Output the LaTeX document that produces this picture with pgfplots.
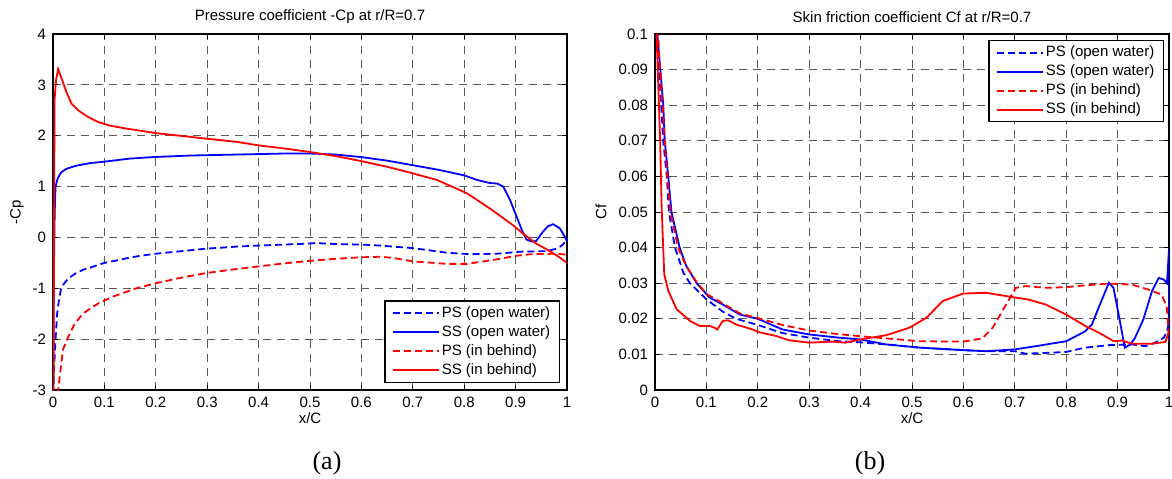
\documentclass[border=0pt]{standalone}
\usepackage{fontspec}
\setmainfont{Liberation Sans}
\newfontfamily\capfont{Liberation Serif}
\usepackage{pgfplots}
\pgfplotsset{compat=1.18}
\newcommand\tf{\fontsize{7.5}{9}\selectfont}

\pgfplotsset{
  cfd/.style={
    width=257pt, height=178pt, scale only axis,
    anchor=south west,
    xmin=0, xmax=1,
    xtick={0,0.1,0.2,0.3,0.4,0.5,0.6,0.7,0.8,0.9,1},
    grid=major,
    major grid style={black!65, line width=0.5pt, dash pattern=on 4pt off 3pt},
    tick align=inside, major tick length=2.5pt,
    tick style={black, line width=0.5pt},
    axis line style={line width=0.6pt},
    ticklabel style={font=\tf},
    /pgf/number format/assume math mode=true,
    scaled ticks=false,
    x tick label style={/pgf/number format/fixed, /pgf/number format/precision=1},
    every axis title/.style={font=\tf, anchor=center, at={(axis description cs:0.5,1.048)}},
    xlabel style={font=\tf, anchor=center, at={(axis description cs:0.5,-0.079)}},
    ylabel style={font=\tf, anchor=center},
    legend cell align=left,
    legend style={font=\tf, draw=black, line width=0.6pt, fill=white,
      inner xsep=3.5pt, inner ysep=1.5pt, row sep=0.4pt,
      nodes={inner sep=1pt, text height=5.5pt, text depth=1.6pt}},
    legend image code/.code={\draw[#1] (0pt,0pt) -- (23pt,0pt);},
    every axis plot/.append style={line width=0.9pt},
  },
  psow/.style={blue, dash pattern=on 3.5pt off 2pt},
  ssow/.style={blue},
  psib/.style={red, dash pattern=on 3.5pt off 2pt},
  ssib/.style={red},
}

\begin{document}
\begin{tikzpicture}
\begin{axis}[cfd, at={(0pt,0pt)},
  ymin=-3, ymax=4, ytick={-3,-2,-1,0,1,2,3,4},
  title={Pressure coefficient -Cp at r/R=0.7},
  xlabel={x/C}, ylabel={-Cp},
  ylabel style={at={(axis description cs:-0.07,0.5)}},
  legend style={at={(axis description cs:0.986,0.02)}, anchor=south east},
]
\addplot[psow] coordinates {
 (0.000,-3.3) (0.002,-2.6) (0.005,-2.0) (0.008,-1.5) (0.012,-1.2) (0.016,-1.0)
 (0.02,-0.93) (0.026,-0.85) (0.035,-0.77) (0.045,-0.7) (0.06,-0.63) (0.071,-0.6)
 (0.085,-0.55) (0.1,-0.5) (0.12,-0.46) (0.143,-0.41) (0.17,-0.36) (0.2,-0.32)
 (0.22,-0.3) (0.25,-0.27) (0.298,-0.22) (0.33,-0.2) (0.357,-0.18) (0.4,-0.16)
 (0.45,-0.14) (0.5,-0.12) (0.51,-0.11) (0.55,-0.13) (0.6,-0.14) (0.636,-0.16)
 (0.7,-0.21) (0.766,-0.30) (0.81,-0.33) (0.864,-0.32) (0.91,-0.28) (0.96,-0.27)
 (0.98,-0.22) (0.99,-0.16) (0.997,-0.08) (1.0,0.0)
};
\addlegendentry{PS (open water)}
\addplot[ssow] coordinates {
 (0.000,-3.3) (0.001,-1.5) (0.002,-0.5) (0.003,0.3) (0.004,0.75) (0.005,1.0)
 (0.008,1.12) (0.01,1.18) (0.016,1.28) (0.026,1.35) (0.045,1.41) (0.071,1.46)
 (0.1,1.49) (0.149,1.55) (0.194,1.58) (0.265,1.61) (0.357,1.63) (0.45,1.65)
 (0.5,1.65) (0.55,1.63) (0.6,1.58) (0.65,1.51) (0.7,1.42) (0.75,1.33) (0.8,1.22)
 (0.825,1.13) (0.85,1.07) (0.864,1.06) (0.876,1.0) (0.889,0.74) (0.902,0.41)
 (0.912,0.15) (0.921,-0.04) (0.931,-0.08) (0.94,-0.07) (0.953,0.11) (0.963,0.22)
 (0.973,0.26) (0.986,0.18) (0.996,0.01) (1.0,-0.08)
};
\addlegendentry{SS (open water)}
\addplot[psib] coordinates {
 (0.008,-3.3) (0.01,-3.0) (0.0195,-2.2) (0.03,-1.95) (0.042,-1.7) (0.058,-1.5)
 (0.075,-1.38) (0.091,-1.28) (0.12,-1.15) (0.162,-1.0) (0.2,-0.9) (0.25,-0.79)
 (0.298,-0.7) (0.35,-0.63) (0.4,-0.57) (0.45,-0.51) (0.5,-0.46) (0.55,-0.42)
 (0.6,-0.39) (0.636,-0.38) (0.66,-0.40) (0.70,-0.47) (0.766,-0.52) (0.805,-0.52)
 (0.864,-0.43) (0.902,-0.36) (0.928,-0.33) (0.98,-0.32) (1.0,-0.34)
};
\addlegendentry{PS (in behind)}
\addplot[ssib] coordinates {
 (0.001,-3.3) (0.002,0.0) (0.003,2.7) (0.006,3.1) (0.01,3.31) (0.018,3.09)
 (0.026,2.86) (0.036,2.63) (0.049,2.5) (0.068,2.37) (0.088,2.27) (0.11,2.2)
 (0.143,2.14) (0.169,2.1) (0.201,2.05) (0.265,1.98) (0.3,1.94) (0.357,1.88)
 (0.4,1.81) (0.45,1.75) (0.5,1.68) (0.55,1.6) (0.6,1.5) (0.65,1.39) (0.7,1.26)
 (0.747,1.13) (0.805,0.87) (0.85,0.57) (0.895,0.24) (0.915,0.07) (0.94,-0.12)
 (0.965,-0.26) (0.984,-0.38) (1.0,-0.5)
};
\addlegendentry{SS (in behind)}
\end{axis}

\begin{axis}[cfd, at={(301pt,0pt)},
  ymin=0, ymax=0.1,
  ytick={0,0.01,0.02,0.03,0.04,0.05,0.06,0.07,0.08,0.09,0.1},
  y tick label style={/pgf/number format/fixed, /pgf/number format/precision=2},
  title={Skin friction coefficient Cf at r/R=0.7},
  xlabel={x/C}, ylabel={Cf},
  ylabel style={at={(axis description cs:-0.105,0.5)}},
  legend style={at={(axis description cs:0.99,0.983)}, anchor=north east},
]
\addplot[psow] coordinates {
 (0.003,0.12) (0.008,0.09) (0.016,0.07) (0.023,0.06) (0.027,0.05) (0.039,0.04)
 (0.055,0.033) (0.068,0.03) (0.1,0.0255) (0.132,0.022) (0.158,0.02) (0.197,0.0184)
 (0.248,0.016) (0.3,0.0147) (0.358,0.0137) (0.4,0.0134) (0.45,0.0128) (0.515,0.0119)
 (0.6,0.0112) (0.644,0.0109) (0.7,0.0109) (0.721,0.0102) (0.773,0.0105) (0.8,0.0107)
 (0.837,0.0119) (0.883,0.0126) (0.928,0.0128) (0.954,0.0123) (0.973,0.0133)
 (0.99,0.0147) (0.996,0.0165) (1.0,0.019)
};
\addlegendentry{PS (open water)}
\addplot[ssow] coordinates {
 (0.003,0.12) (0.0045,0.1) (0.016,0.0803) (0.019,0.07) (0.026,0.0597) (0.032,0.05)
 (0.048,0.04) (0.061,0.0348) (0.081,0.03) (0.106,0.026) (0.132,0.024) (0.165,0.0212)
 (0.2,0.02) (0.248,0.017) (0.3,0.0156) (0.358,0.0147) (0.4,0.0142) (0.45,0.0128)
 (0.515,0.0119) (0.6,0.0112) (0.644,0.0109) (0.7,0.0114) (0.74,0.0123) (0.8,0.0137)
 (0.837,0.0165) (0.85,0.0184) (0.863,0.0231) (0.883,0.0301) (0.892,0.0287)
 (0.902,0.0212) (0.914,0.0119) (0.925,0.0128) (0.934,0.0147) (0.95,0.0198)
 (0.967,0.0278) (0.98,0.0315) (0.99,0.031) (0.996,0.030) (1.0,0.0395) (1.0,0.014)
};
\addlegendentry{SS (open water)}
\addplot[psib] coordinates {
 (0.003,0.12) (0.005,0.1) (0.015,0.08) (0.019,0.07) (0.024,0.06) (0.03,0.05)
 (0.045,0.04) (0.06,0.035) (0.08,0.0305) (0.1,0.027) (0.13,0.0245) (0.165,0.0215)
 (0.2,0.0202) (0.25,0.0182) (0.3,0.0167) (0.35,0.0158) (0.4,0.0151) (0.45,0.0145)
 (0.515,0.0137) (0.6,0.0136) (0.637,0.0145) (0.657,0.0175) (0.683,0.024)
 (0.702,0.0287) (0.721,0.0292) (0.76,0.0287) (0.8,0.0289) (0.837,0.0294)
 (0.883,0.0299) (0.928,0.0296) (0.96,0.0282) (0.986,0.0268) (0.996,0.023) (1.0,0.0137)
};
\addlegendentry{PS (in behind)}
\addplot[ssib] coordinates {
 (0.002,0.13) (0.003,0.1) (0.01,0.07) (0.013,0.051) (0.018,0.0325) (0.026,0.0278)
 (0.042,0.0227) (0.068,0.0194) (0.087,0.018) (0.106,0.018) (0.116,0.0175)
 (0.121,0.017) (0.132,0.0194) (0.142,0.0196) (0.158,0.0184) (0.19,0.017) (0.2,0.0163)
 (0.235,0.0152) (0.26,0.014) (0.3,0.0133) (0.345,0.0136) (0.37,0.0133) (0.4,0.0142)
 (0.45,0.0154) (0.495,0.0175) (0.528,0.0203) (0.56,0.025) (0.6,0.0271) (0.644,0.0273)
 (0.7,0.026) (0.727,0.0254) (0.76,0.024) (0.8,0.0212) (0.837,0.018) (0.87,0.0156)
 (0.892,0.0137) (0.908,0.0139) (0.928,0.013) (0.967,0.013) (0.993,0.0135) (1.0,0.0165)
};
\addlegendentry{SS (in behind)}
\end{axis}

\node[font=\capfont\fontsize{13}{15}\selectfont] at (137pt,-36.5pt) {(a)};
\node[font=\capfont\fontsize{13}{15}\selectfont] at (408.5pt,-36.5pt) {(b)};

\pgfresetboundingbox
\path[use as bounding box] (-26.5pt,-44pt) rectangle (559.5pt,195pt);
\end{tikzpicture}
\end{document}
